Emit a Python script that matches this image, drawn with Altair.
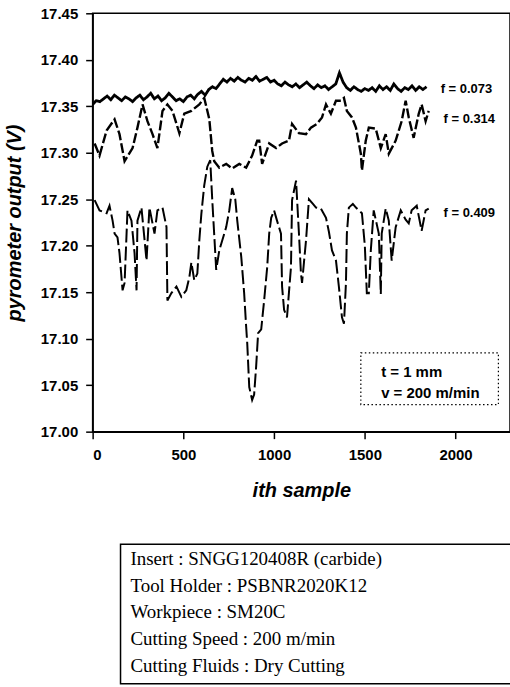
import altair as alt
import pandas as pd

# ---------------- data ----------------
series_names = ["f = 0.073", "f = 0.314", "f = 0.409"]

x_073 = list(range(0, 1841, 20))
y_073 = [
    17.352, 17.356, 17.355, 17.358, 17.361, 17.357, 17.362, 17.359, 17.356, 17.360,
    17.358, 17.355, 17.359, 17.362, 17.357, 17.360, 17.364, 17.358, 17.361, 17.356,
    17.359, 17.364, 17.360, 17.356, 17.358, 17.355, 17.360, 17.362, 17.358, 17.363,
    17.366, 17.362, 17.368, 17.371, 17.369, 17.374, 17.379, 17.376, 17.380, 17.377,
    17.381, 17.378, 17.376, 17.380, 17.378, 17.382, 17.377, 17.379, 17.381, 17.376,
    17.378, 17.374, 17.372, 17.376, 17.373, 17.371, 17.374, 17.370, 17.373, 17.376,
    17.372, 17.369, 17.373, 17.370, 17.372, 17.368, 17.371, 17.374, 17.386, 17.376,
    17.370, 17.367, 17.371, 17.368, 17.366, 17.369, 17.367, 17.370, 17.366, 17.372,
    17.368, 17.371, 17.367, 17.374, 17.369, 17.366, 17.370, 17.368, 17.372, 17.367,
    17.371, 17.368, 17.371,
]

x_314 = [11, 38, 77, 121, 148, 176, 220, 247, 275, 302,
         330, 357, 385, 412, 440, 478, 505, 544, 588, 615,
         643, 659, 670, 698, 736, 769, 808, 846, 879, 907,
         918, 934, 973, 1011, 1044, 1082, 1099, 1137, 1176, 1203,
         1236, 1264, 1286, 1313, 1341, 1368, 1385, 1401, 1429, 1451,
         1478, 1484, 1505, 1522, 1560, 1588, 1615, 1632, 1670, 1703,
         1725, 1742, 1769, 1797, 1813, 1835, 1852]
y_314 = [17.310, 17.297, 17.324, 17.336, 17.320, 17.291, 17.305, 17.327, 17.352, 17.334,
         17.320, 17.305, 17.345, 17.352, 17.345, 17.321, 17.342, 17.345, 17.352, 17.359,
         17.336, 17.302, 17.291, 17.284, 17.288, 17.283, 17.288, 17.284, 17.297, 17.313,
         17.313, 17.288, 17.310, 17.305, 17.310, 17.313, 17.331, 17.321, 17.320, 17.327,
         17.331, 17.338, 17.352, 17.342, 17.356, 17.356, 17.359, 17.345, 17.338, 17.327,
         17.299, 17.281, 17.313, 17.327, 17.326, 17.305, 17.320, 17.299, 17.313, 17.334,
         17.356, 17.338, 17.316, 17.342, 17.352, 17.334, 17.345]

x_409 = [11, 38, 77, 93, 110, 121, 137, 148, 165, 176,
         187, 192, 214, 231, 242, 247, 269, 297, 313, 341,
         357, 385, 407, 412, 434, 462, 489, 516, 533, 544,
         560, 577, 588, 599, 615, 632, 648, 659, 681, 698,
         736, 753, 769, 786, 797, 819, 835, 846, 852, 863,
         879, 890, 901, 912, 929, 945, 962, 973, 984, 1000,
         1016, 1038, 1044, 1055, 1071, 1093, 1099, 1121, 1137, 1148,
         1154, 1176, 1192, 1214, 1231, 1258, 1286, 1302, 1319, 1341,
         1357, 1374, 1385, 1396, 1401, 1412, 1434, 1451, 1484, 1500,
         1511, 1522, 1533, 1549, 1577, 1588, 1593, 1615, 1632, 1648,
         1670, 1698, 1725, 1742, 1758, 1786, 1813, 1835, 1852]
y_409 = [17.249, 17.238, 17.235, 17.243, 17.227, 17.213, 17.209, 17.192, 17.152, 17.160,
         17.213, 17.238, 17.227, 17.192, 17.152, 17.227, 17.241, 17.184, 17.241, 17.213,
         17.238, 17.241, 17.220, 17.141, 17.149, 17.156, 17.145, 17.152, 17.166, 17.182,
         17.163, 17.170, 17.206, 17.234, 17.265, 17.285, 17.292, 17.250, 17.174, 17.195,
         17.220, 17.238, 17.262, 17.250, 17.227, 17.188, 17.149, 17.113, 17.095, 17.048,
         17.034, 17.040, 17.070, 17.106, 17.110, 17.141, 17.177, 17.213, 17.230, 17.238,
         17.227, 17.213, 17.156, 17.131, 17.123, 17.177, 17.249, 17.270, 17.213, 17.170,
         17.160, 17.206, 17.250, 17.245, 17.241, 17.240, 17.230, 17.215, 17.195, 17.184,
         17.156, 17.123, 17.116, 17.160, 17.213, 17.241, 17.245, 17.241, 17.235, 17.200,
         17.149, 17.149, 17.195, 17.238, 17.213, 17.148, 17.213, 17.240, 17.227, 17.184,
         17.220, 17.238, 17.228, 17.224, 17.238, 17.243, 17.216, 17.238, 17.240]

x_ticks = [0, 500, 1000, 1500, 2000]
y_ticks = [17.00, 17.05, 17.10, 17.15, 17.20, 17.25, 17.30, 17.35, 17.40, 17.45]

# series labels at the right end of each trace (data coordinates)
label_x = [1918, 1934, 1934]
label_y = [17.369, 17.336, 17.235]

# cutting condition box (data coordinates)
cond_lines = ["t = 1 mm", "v = 200 m/min"]
cond_x = [1590, 1590]
cond_y = [17.064, 17.042]
cond_box = {"x1": 1478, "x2": 2236, "y1": 17.0847, "y2": 17.029}

info_lines = [
    "Insert : SNGG120408R  (carbide)",
    "Tool Holder : PSBNR2020K12",
    "Workpiece : SM20C",
    "Cutting Speed : 200 m/min",
    "Cutting Fluids : Dry Cutting",
]

# ---------------- build tables ----------------
rows = []
for name, xs, ys in zip(series_names, [x_073, x_314, x_409], [y_073, y_314, y_409]):
    for xv, yv in zip(xs, ys):
        rows.append({"series": name, "sample": xv, "volt": yv})
df = pd.DataFrame(rows)

df_lab = pd.DataFrame({"label": series_names, "sample": label_x, "volt": label_y})
df_cond = pd.DataFrame({"label": cond_lines, "sample": cond_x, "volt": cond_y})
df_box = pd.DataFrame([cond_box])
df_one = pd.DataFrame({"k": [0]})

sans = "Liberation Sans"
xscale = alt.Scale(domain=[0, 2300], nice=False, zero=False)
yscale = alt.Scale(domain=[17.0, 17.45], nice=False, zero=False)

lines = alt.Chart(df).mark_line(color="black", clip=True).encode(
    x=alt.X("sample:Q", scale=xscale,
            axis=alt.Axis(values=x_ticks, title="ith sample", format="d",
                          titleY=65, titleBaseline="alphabetic", labelPadding=9)),
    y=alt.Y("volt:Q", scale=yscale,
            axis=alt.Axis(values=y_ticks, format=".2f", title="pyrometer output (V)",
                          titleAngle=-90, titleX=-72, titleY=210, titleAlign="center",
                          titleBaseline="alphabetic", labelPadding=8)),
    strokeDash=alt.StrokeDash("series:N", legend=None,
                              scale=alt.Scale(domain=series_names,
                                              range=[[1, 0], [10, 3], [14, 4]])),
    strokeWidth=alt.StrokeWidth("series:N", legend=None,
                                scale=alt.Scale(domain=series_names, range=[2.8, 2.0, 2.0])),
    order="sample:Q",
)

labels = alt.Chart(df_lab).mark_text(
    align="left", baseline="middle", font=sans, fontWeight="bold", fontSize=13, color="black"
).encode(x=alt.X("sample:Q", scale=xscale), y=alt.Y("volt:Q", scale=yscale), text="label:N")

box = alt.Chart(df_box).mark_rect(
    fillOpacity=0, stroke="black", strokeWidth=1.2, strokeDash=[1.5, 2.5]
).encode(x=alt.X("x1:Q", scale=xscale), x2="x2:Q",
         y=alt.Y("y1:Q", scale=yscale), y2="y2:Q")

cond = alt.Chart(df_cond).mark_text(
    align="left", baseline="middle", font=sans, fontWeight="bold", fontSize=15, color="black"
).encode(x=alt.X("sample:Q", scale=xscale), y=alt.Y("volt:Q", scale=yscale), text="label:N")

info_box = alt.Chart(df_one).mark_rect(
    fillOpacity=0, stroke="black", strokeWidth=1.5
).encode(x=alt.value(28), x2=alt.value(440), y=alt.value(533), y2=alt.value(673))

info_text = alt.Chart(df_one).mark_text(
    align="left", baseline="alphabetic", font="Liberation Serif", fontSize=19,
    lineBreak="\n", lineHeight=26.75, color="black"
).encode(x=alt.value(38), y=alt.value(554), text=alt.value("\n".join(info_lines)))

chart = alt.layer(lines, labels, box, cond, info_box, info_text).properties(
    width=419, height=420,
    autosize=alt.AutoSizeParams(type="none"),
    padding={"left": 93, "top": 12, "right": 0, "bottom": 255},
    background="white",
).configure_view(
    stroke="black", strokeWidth=1.5
).configure_axis(
    grid=False, domainColor="black", domainWidth=1.5, tickColor="black", tickWidth=1.5,
    tickSize=7, labelFont=sans, labelFontWeight="bold", labelFontSize=15, labelColor="black",
    titleFont=sans, titleFontWeight="bold", titleFontStyle="italic", titleFontSize=20,
    titleColor="black",
)

chart.save("out.html", embed_options={"renderer": "svg", "actions": False})
